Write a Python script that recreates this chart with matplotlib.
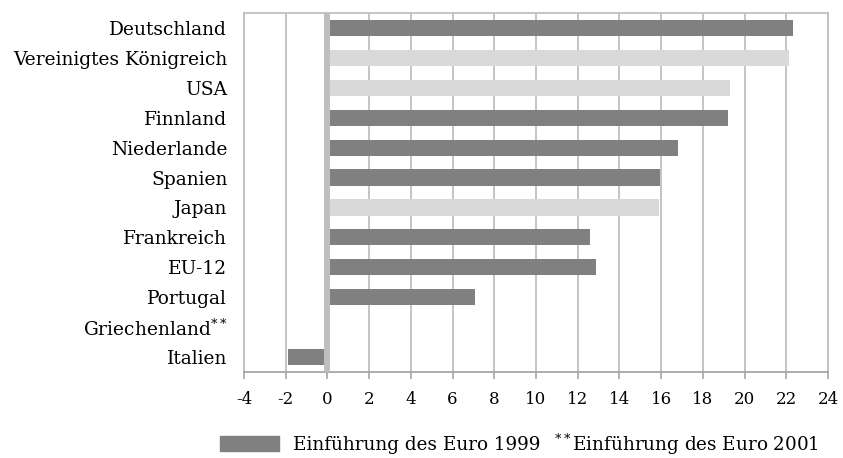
import numpy as np
import matplotlib.pyplot as plt
from matplotlib.patches import Patch

plt.rcParams['font.family'] = ['DejaVu Serif']
plt.rcParams['mathtext.fontset'] = 'custom'
plt.rcParams['mathtext.rm'] = 'DejaVu Serif'
plt.rcParams['mathtext.it'] = 'DejaVu Serif'

# ── Data (top to bottom) ─────────────────────────────────────────────────────
countries = ['Deutschland', 'Vereinigtes Königreich', 'USA', 'Finnland',
             'Niederlande', 'Spanien', 'Japan', 'Frankreich', 'EU-12',
             'Portugal', 'Griechenland$^{**}$', 'Italien']
values = [22.3, 22.15, 19.3, 19.2, 16.8, 15.95, 15.9, 12.6, 12.9, 7.1,
          np.nan, -1.9]
euro_1999 = [True, False, False, True, True, True, False, True, True, True,
             False, True]

xticks = list(range(-4, 25, 2))

DARK = '#808080'
LIGHT = '#d9d9d9'
GRID = '#bfbfbf'

# ── Plot ─────────────────────────────────────────────────────────────────────
fig = plt.figure(figsize=(8.43, 4.58), dpi=100)
ax = fig.add_axes([0.2894, 0.1878, 0.6928, 0.7838])

y = np.arange(len(countries))[::-1]
colors = [DARK if e else LIGHT for e in euro_1999]
ax.barh(y, values, height=0.54, color=colors, zorder=3)
ax.axvline(0, color=GRID, lw=4.3, zorder=4)

ax.set_xlim(-4, 24)
ax.set_ylim(-0.5, len(countries) - 0.5)
ax.set_xticks(xticks)
ax.set_xticklabels([str(t) for t in xticks], fontsize=12)
ax.set_yticks(y)
ax.set_yticklabels(countries, fontsize=13.4)
ax.tick_params(axis='y', length=0, pad=12)
ax.tick_params(axis='x', length=5, color='#a6a6a6', width=1.2, pad=9)
ax.grid(True, axis='x', color=GRID, lw=1.3, zorder=0)
ax.set_axisbelow(True)
for s in ax.spines.values():
    s.set_color(GRID)
    s.set_linewidth(1.3)
ax.spines['bottom'].set_color('#a6a6a6')

leg = fig.legend(handles=[Patch(color=DARK, label='Einführung des Euro 1999')],
                 loc='center left', bbox_to_anchor=(0.250, 0.029),
                 frameon=False, fontsize=13.2, handlelength=3.2, handleheight=0.85,
                 handletextpad=0.8, borderpad=0)
fig.text(0.657, 0.029, '$^{**}$Einführung des Euro 2001', fontsize=13.2,
         va='center', ha='left')

plt.savefig('out.png', dpi=100, facecolor='white')
